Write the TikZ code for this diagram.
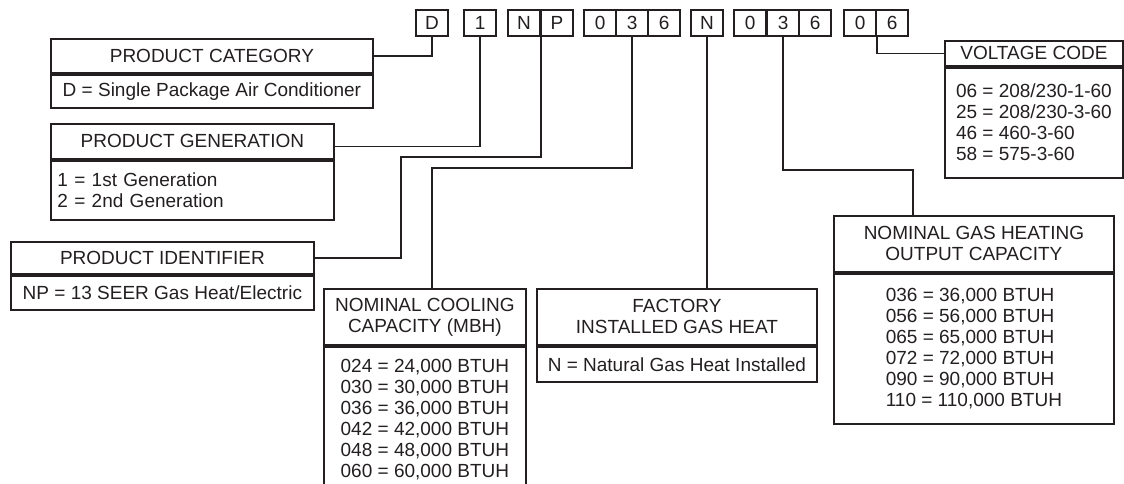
\documentclass[tikz,border=0pt]{standalone}
\usepackage{fontspec}
\setmainfont{Liberation Sans}
\definecolor{ink}{RGB}{35,31,32}

\begin{document}
\begin{tikzpicture}[x=1pt,y=-1pt,line width=1.8pt,draw=ink,text=ink,
    font=\fontsize{19}{21}\selectfont,
    cell/.style={draw,minimum width=32.3pt,minimum height=26pt,inner sep=0pt,anchor=north west},
    hd/.style={draw,align=center,inner sep=0pt,anchor=north west},
    bd/.style={draw,align=left,inner sep=0pt,anchor=north west}]
  \useasboundingbox (0,0) rectangle (1124,483);

  % model number cells
  \foreach \x/\t/\n in {415/D/cD, 463/1/cG, 507/N/cN, 540/P/cP, 583/0/c0a, 615/3/c3a,
      647/6/c6a, 690/N/cF, 733/0/c0b, 766/3/c3b, 798/6/c6b, 843/0/cV0, 875/6/cV6}
    \node[cell] (\n) at (\x,9) {\t};

  % product category
  \node[hd,minimum width=322pt,minimum height=34pt] (catH) at (50,38) {PRODUCT CATEGORY};
  \node[bd,minimum width=322pt,minimum height=33pt] (catB) at (catH.south west)
    {D = Single Package Air Conditioner};

  % product generation
  \node[hd,minimum width=283pt,minimum height=35pt] (genH) at (50,123) {PRODUCT GENERATION};
  \node[bd,minimum width=283pt,minimum height=59pt,text width=270pt] (genB) at (genH.south west)
    {1 = 1st Generation\\2 = 2nd Generation};

  % product identifier
  \node[hd,minimum width=303pt,minimum height=32pt] (idH) at (10,241) {PRODUCT IDENTIFIER};
  \node[bd,minimum width=303pt,minimum height=34pt] (idB) at (idH.south west)
    {NP = 13 SEER Gas Heat/Electric};

  % nominal cooling capacity
  \node[hd,minimum width=202pt,minimum height=56pt] (coolH) at (323,288)
    {NOMINAL COOLING\\CAPACITY (MBH)};
  \node[bd,minimum width=202pt,minimum height=146pt] (coolB) at (coolH.south west)
    {024 = 24,000 BTUH\\030 = 30,000 BTUH\\036 = 36,000 BTUH\\
     042 = 42,000 BTUH\\048 = 48,000 BTUH\\060 = 60,000 BTUH};

  % factory installed gas heat
  \node[hd,minimum width=280pt,minimum height=56pt] (factH) at (536,288)
    {FACTORY\\INSTALLED GAS HEAT};
  \node[bd,minimum width=280pt,minimum height=35pt] (factB) at (factH.south west)
    {N = Natural Gas Heat Installed};

  % nominal gas heating output capacity
  \node[hd,minimum width=280pt,minimum height=56pt] (heatH) at (833,215)
    {NOMINAL GAS HEATING\\OUTPUT CAPACITY};
  \node[bd,minimum width=280pt,minimum height=150pt] (heatB) at (heatH.south west)
    {036 = 36,000 BTUH\\056 = 56,000 BTUH\\065 = 65,000 BTUH\\
     072 = 72,000 BTUH\\090 = 90,000 BTUH\\110 = 110,000 BTUH};

  % voltage code
  \node[hd,minimum width=178pt,minimum height=25pt] (voltH) at (944,40) {VOLTAGE CODE};
  \node[bd,minimum width=178pt,minimum height=110pt] (voltB) at (voltH.south west)
    {06 = 208/230-1-60\\25 = 208/230-3-60\\46 = 460-3-60\\58 = 575-3-60};

  % connectors
  \coordinate (kNP) at (401,157);
  \coordinate (kCool) at (432,168);
  \coordinate (kHeat) at (913,170);
  \draw (cD.south) |- (catH.east);
  \draw (cG.south) |- ([yshift=-5pt]genH.east);
  \draw (cN.south east) |- (kNP) |- (idH.east);
  \draw (c3a.south) |- (kCool) -- (kCool |- coolH.north);
  \draw (cF.south) -- (cF.south |- factH.north);
  \draw (c3b.south) |- (kHeat) -- (kHeat |- heatH.north);
  \draw (cV0.south east) |- (voltH.west);
\end{tikzpicture}
\end{document}
